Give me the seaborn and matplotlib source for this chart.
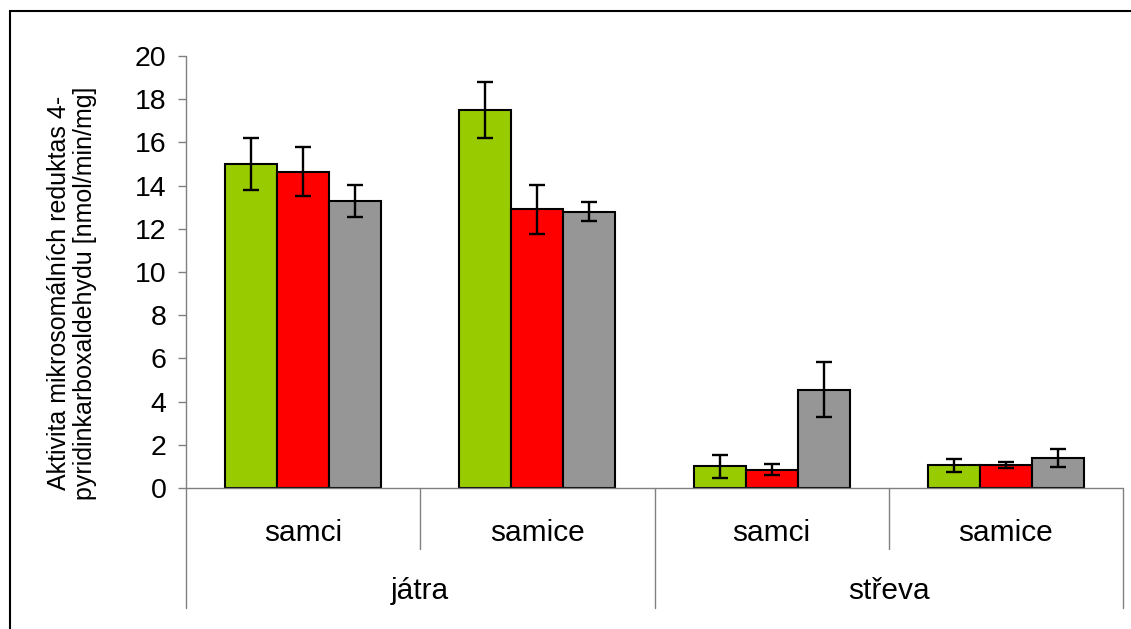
import matplotlib
matplotlib.use("Agg")
import matplotlib.pyplot as plt
from matplotlib.patches import Rectangle
from matplotlib.transforms import blended_transform_factory
import numpy as np
import pandas as pd
import seaborn as sns

# Tissue / sex groups on the category axis
organs = ["játra", "játra", "střeva", "střeva"]
sexes = ["samci", "samice", "samci", "samice"]
series = ["série 1", "série 2", "série 3"]

# Mean activity per group for each series [nmol/min/mg]
serie1 = [15.0, 17.5, 1.0, 1.05]
serie2 = [14.65, 12.9, 0.85, 1.08]
serie3 = [13.3, 12.8, 4.55, 1.4]

# Error bar half-lengths
err1 = [1.2, 1.3, 0.55, 0.29]
err2 = [1.13, 1.15, 0.24, 0.14]
err3 = [0.74, 0.46, 1.28, 0.42]

y_ticks = [0, 2, 4, 6, 8, 10, 12, 14, 16, 18, 20]
y_label = "Aktivita mikrosomálních reduktas 4-\npyridinkarboxaldehydu [nmol/min/mg]"

colors = ["#99CC00", "#FF0000", "#969696"]

sns.set_theme(style="white")
plt.rcParams["font.family"] = ["Liberation Sans", "DejaVu Sans"]

groups = [f"{o} {s}" for o, s in zip(organs, sexes)]
rows = []
for name, vals, errs in zip(series, [serie1, serie2, serie3], [err1, err2, err3]):
    for g, v, e in zip(groups, vals, errs):
        rows.append({"skupina": g, "serie": name, "hodnota": v, "chyba": e})
df = pd.DataFrame(rows)

W, H = 1131, 629
fig = plt.figure(figsize=(W / 100, H / 100), dpi=100)
ax_left, ax_right, ax_top, ax_bottom = 186, 1123, 56, 488
ax = fig.add_axes([ax_left / W, 1 - ax_bottom / H,
                   (ax_right - ax_left) / W, (ax_bottom - ax_top) / H])

sns.barplot(data=df, x="skupina", y="hodnota", hue="serie", order=groups,
            hue_order=series, palette=colors, width=0.667, errorbar=None,
            edgecolor="black", linewidth=1.5, saturation=1, legend=False, ax=ax)

# Error bars placed at the centres of the drawn bars
for cont, name in zip(ax.containers, series):
    sub = df[df["serie"] == name].set_index("skupina").loc[groups]
    xs = [p.get_x() + p.get_width() / 2 for p in cont.patches]
    ax.errorbar(xs, sub["hodnota"].values, yerr=sub["chyba"].values, fmt="none",
                ecolor="black", elinewidth=1.7, capsize=6, capthick=1.7, zorder=5)

ax.set_xlim(-0.5, len(groups) - 0.5)
ax.set_ylim(0, 20)
ax.set_yticks(y_ticks)
ax.set_yticklabels([str(t) for t in y_ticks])
ax.set_xticks([])
ax.set_xlabel("")
ax.set_ylabel("")

axis_grey = "#808080"
for side in ["top", "right", "bottom", "left"]:
    ax.spines[side].set_visible(False)
ax.tick_params(axis="y", direction="out", length=6, width=1, color=axis_grey,
               pad=8, labelsize=20.5, labelcolor="black", left=True)

# Axis lines and the two-level category separators
tr = blended_transform_factory(ax.transData, ax.transAxes)
ax_h = ax_bottom - ax_top
short_end = -(549 - ax_bottom) / ax_h
long_end = -(608 - ax_bottom) / ax_h
ax.plot([-0.5, len(groups) - 0.5], [0, 0], transform=tr, color=axis_grey,
        lw=1, clip_on=False, zorder=1)
ax.plot([-0.5, -0.5], [1, long_end], transform=tr, color=axis_grey,
        lw=1, clip_on=False)
for i in range(1, len(groups) + 1):
    x = i - 0.5
    if i < len(groups) and organs[i] == organs[i - 1]:
        ax.plot([x, x], [0, short_end], transform=tr, color=axis_grey,
                lw=1, clip_on=False)
    else:
        ax.plot([x, x], [0, long_end], transform=tr, color=axis_grey,
                lw=1, clip_on=False)

# Category labels: sex below each group, organ below each pair
for i, s in enumerate(sexes):
    ax.text(i, -(533 - ax_bottom) / ax_h, s, transform=tr, ha="center",
            va="center", fontsize=21.5, color="black")
for organ in dict.fromkeys(organs):
    idx = [i for i, o in enumerate(organs) if o == organ]
    ax.text(np.mean(idx), -(591 - ax_bottom) / ax_h, organ, transform=tr,
            ha="center", va="center", fontsize=21.5, color="black")

fig.text(72 / W, 1 - 293 / H, y_label, rotation=90, ha="center", va="center",
         multialignment="center", fontsize=18, linespacing=1.1, color="black")

# Chart frame
fig.patches.append(Rectangle((10 / W, -0.1), 1.2, 1.1 - 11 / H,
                             transform=fig.transFigure, fill=False,
                             edgecolor="black", lw=1.5))

fig.savefig("out.png", dpi=100)
